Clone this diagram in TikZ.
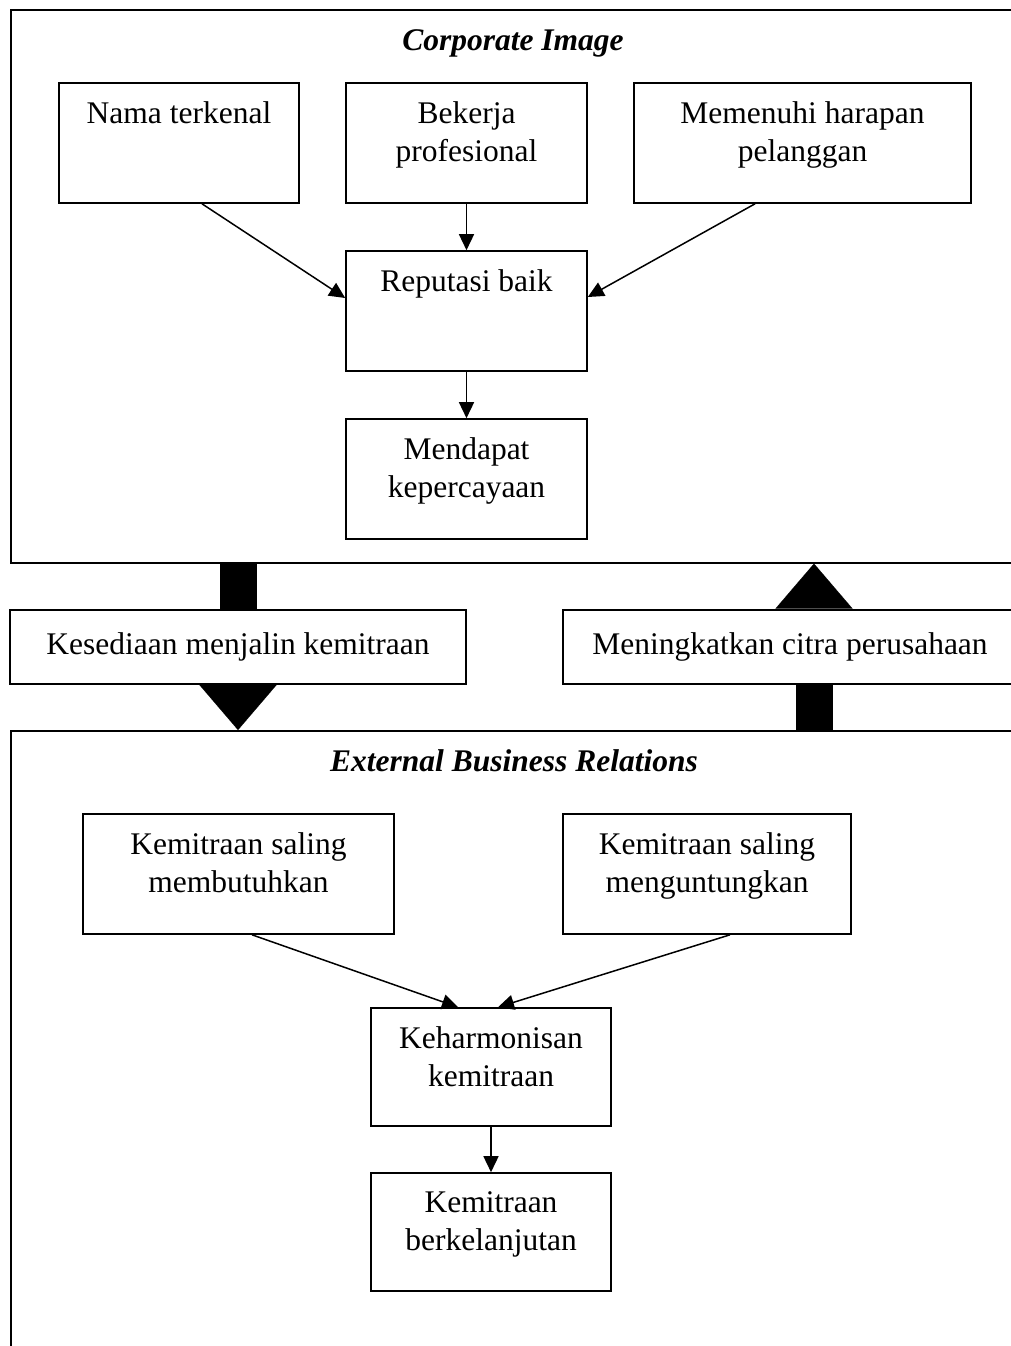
\documentclass[tikz,border=0pt]{standalone}
\usepackage{fontspec}
\setmainfont{Liberation Serif}
\usetikzlibrary{positioning, arrows.meta, calc, backgrounds}

\begin{document}
\begin{tikzpicture}[x=1pt, y=-1pt,
	every node/.style={font=\fontsize{31.5}{37.5}\selectfont},
	outer/.style={draw, line width=1.6pt, anchor=north west, inner sep=0pt, minimum width=1010pt},
	box/.style={draw, line width=1.6pt, minimum width=241pt, minimum height=120pt, inner sep=0pt},
	midbox/.style={draw, line width=1.6pt, fill=white, minimum height=74pt, inner sep=0pt},
	intext/.style={align=center, inner sep=0pt},
	title/.style={font=\fontsize{31.5}{37.5}\selectfont\bfseries\itshape, inner sep=0pt},
	link/.style={line width=1.5pt, -{Triangle[length=16pt, width=15pt]}},
	bigarrow/.style={line width=37pt, -{Triangle[length=45pt, width=77pt, line width=0.1pt]}}]
	\useasboundingbox (0,0) rectangle (1011,1346);
	\clip (0,0) rectangle (1011,1346);

	% outer frames
	\node[outer, minimum height=553pt] (ci) at (10,9) {};
	\node[outer, minimum height=700pt] (ebr) at (10,730) {};
	\node[title] (ci-t) at (513,43) {Corporate Image};
	\node[title] (ebr-t) at (514,761) {External Business Relations};

	% corporate image
	\node[box, minimum width=240pt] (nama) at (179,143) {};
	\node[intext, below=19.5pt of nama.north] (nama-t) {Nama terkenal};
	\node[box] (bekerja) at (466.5,143) {};
	\node[intext, below=19.5pt of bekerja.north] (bekerja-t) {Bekerja\\profesional};
	\node[box, minimum width=337pt] (harapan) at (802.5,143) {};
	\node[intext, below=19.5pt of harapan.north] (harapan-t) {Memenuhi harapan\\pelanggan};
	\node[box] (reputasi) at (466.5,311) {};
	\node[intext, below=19.5pt of reputasi.north] (reputasi-t) {Reputasi baik};
	\node[box] (percaya) at (466.5,479) {};
	\node[intext, below=19.5pt of percaya.north] (percaya-t) {Mendapat\\kepercayaan};

	\draw[link] ([xshift=23pt]nama.south) -- ([yshift=13pt]reputasi.west);
	\draw[link] (bekerja.south) -- (reputasi.north);
	\draw[link] ([xshift=-47.5pt]harapan.south) -- ([yshift=14pt]reputasi.east);
	\draw[link] (reputasi.south) -- (percaya.north);

	% middle
	\node[midbox, minimum width=456pt] (sedia) at (238,647) {Kesediaan menjalin kemitraan};
	\node[midbox, minimum width=454pt] (citra) at (790,647) {Meningkatkan citra perusahaan};
	\coordinate (naik) at ([xshift=24pt]citra.center);
	\begin{pgfonlayer}{background}
		\draw[bigarrow] (sedia.center |- ci.south) -- (sedia.center |- ebr.north);
		\draw[bigarrow] (naik |- ebr.north) -- (naik |- ci.south);
	\end{pgfonlayer}

	% external business relations
	\node[box, minimum width=311pt] (butuh) at (238.5,874) {};
	\node[intext, below=19.5pt of butuh.north] (butuh-t) {Kemitraan saling\\membutuhkan};
	\node[box, minimum width=288pt] (untung) at (707,874) {};
	\node[intext, below=19.5pt of untung.north] (untung-t) {Kemitraan saling\\menguntungkan};
	\node[box, minimum width=240pt, minimum height=118pt] (harmonis) at (491,1067) {};
	\node[intext, below=19.5pt of harmonis.north] (harmonis-t) {Keharmonisan\\kemitraan};
	\node[box, minimum width=240pt, minimum height=118pt] (lanjut) at (491,1232) {};
	\node[intext, below=19.5pt of lanjut.north] (lanjut-t) {Kemitraan\\berkelanjutan};

	\draw[link] ([xshift=13.5pt]butuh.south) -- ([xshift=-33pt]harmonis.north);
	\draw[link] ([xshift=23pt]untung.south) -- ([xshift=7pt]harmonis.north);
	\draw[link] (harmonis.south) -- (lanjut.north);
\end{tikzpicture}
\end{document}
